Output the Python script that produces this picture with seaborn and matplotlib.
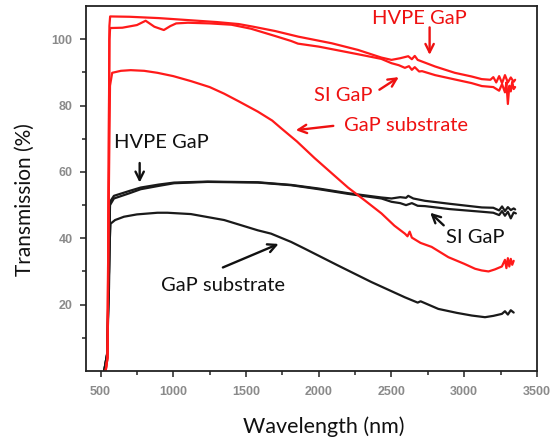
import numpy as np
import pandas as pd
import matplotlib
matplotlib.use("Agg")
import matplotlib.pyplot as plt
import seaborn as sns

# ---- data ----
red_hvpe_x = [535, 548, 556, 561, 566, 700, 900, 1100, 1300, 1450, 1550, 1700, 1860, 2090, 2270, 2430,
              2500, 2560, 2615, 2640, 2660, 2680, 2710, 2800, 2935, 3050, 3120, 3180, 3200, 3220, 3240,
              3260, 3280, 3300, 3320, 3340, 3350]
red_hvpe_y = [0, 4, 60, 104, 106.9, 106.8, 106.4, 105.8, 105.2, 104.6, 103.8, 102.5, 100.8, 98.8, 96.8, 94.5,
              93.8, 94.3, 94.9, 94.0, 95.0, 93.8, 93.3, 91.8, 89.9, 88.8, 88.0, 87.8, 88.6, 87.0, 88.9,
              86.8, 89.2, 87.0, 88.5, 87.2, 87.8]

red_si_x = [535, 548, 556, 561, 566, 650, 750, 810, 870, 935, 980, 1020, 1100, 1250, 1400, 1534, 1700,
            1810, 1857, 2000, 2270, 2430, 2500, 2550, 2592, 2620, 2640, 2660, 2690, 2710, 2800, 2935,
            3050, 3121, 3200, 3240, 3260, 3280, 3290, 3300, 3310, 3320, 3330, 3340, 3350]
red_si_y = [0, 4, 60, 100, 103.4, 103.5, 104.3, 105.6, 103.8, 102.8, 104.0, 104.8, 105.0, 104.8, 104.4,
            103.2, 101.0, 99.5, 98.7, 97.8, 95.5, 94.1, 92.8, 92.2, 91.4, 91.9, 90.8, 91.6, 90.3, 90.4,
            89.2, 87.9, 86.8, 85.9, 85.6, 84.5, 86.5, 84.0, 87.0, 80.5, 86.0, 84.3, 87.2, 85.0, 85.6]

red_sub_x = [535, 548, 556, 565, 580, 640, 707, 800, 891, 1000, 1121, 1250, 1350, 1450, 1581, 1680,
             1741, 1850, 1971, 2100, 2201, 2320, 2431, 2520, 2592, 2610, 2625, 2640, 2700, 2776, 2891,
             3000, 3075, 3120, 3167, 3210, 3259, 3280, 3290, 3300, 3310, 3320, 3330, 3340]
red_sub_y = [0, 4, 50, 86, 89.9, 90.5, 90.7, 90.5, 89.9, 88.9, 87.4, 85.6, 83.6, 81.3, 78.2, 75.5,
             73.2, 69.2, 64.2, 59.2, 55.3, 51.3, 47.5, 43.8, 41.4, 40.6, 42.0, 40.2, 38.6, 37.4, 34.3,
             32.3, 30.8, 30.3, 30.0, 30.6, 31.5, 33.5, 31.0, 34.0, 31.5, 33.8, 32.0, 33.2]

blk_sub_x = [525, 545, 558, 564, 569, 600, 661, 750, 891, 960, 1121, 1350, 1581, 1672, 1810, 1902, 2132,
             2362, 2592, 2680, 2700, 2822, 2950, 3052, 3143, 3200, 3259, 3280, 3300, 3320, 3340]
blk_sub_y = [0, 5, 25, 40, 44.4, 45.5, 46.5, 47.2, 47.7, 47.7, 47.3, 45.5, 42.4, 41.4, 38.9, 36.9, 31.8,
             26.8, 22.2, 20.6, 21.0, 18.7, 17.5, 16.7, 16.2, 16.6, 17.2, 18.0, 17.0, 18.3, 17.6]

blk_hvpe_x = [525, 545, 558, 565, 592, 700, 776, 900, 1006, 1236, 1581, 1810, 2000, 2201, 2431, 2500,
              2560, 2600, 2615, 2650, 2730, 2900, 3121, 3200, 3240, 3260, 3280, 3300, 3320, 3340, 3350]
blk_hvpe_y = [0, 5, 30, 51, 52.8, 54.3, 55.3, 56.2, 56.8, 57.1, 56.9, 56.1, 55.0, 53.6, 52.3, 52.0,
              52.4, 52.2, 52.8, 52.0, 51.3, 50.4, 49.3, 49.2, 48.4, 49.6, 48.2, 49.4, 48.5, 49.0, 48.7]

blk_si_x = [525, 545, 558, 565, 592, 700, 776, 900, 1006, 1236, 1581, 1810, 2000, 2201, 2431, 2500,
            2560, 2600, 2640, 2680, 2730, 2900, 3121, 3200, 3240, 3260, 3280, 3300, 3320, 3340, 3355]
blk_si_y = [0, 5, 30, 50, 52.0, 53.6, 54.8, 55.8, 56.6, 57.0, 56.8, 56.0, 54.8, 53.4, 52.0, 51.0,
            50.6, 50.0, 50.6, 49.8, 49.7, 48.8, 48.0, 47.7, 47.0, 48.2, 46.8, 48.0, 46.0, 47.8, 47.5]

x_ticks = [500, 1000, 1500, 2000, 2500, 3000, 3500]
y_ticks = [20, 40, 60, 80, 100]

# annotation labels: (text, text position, arrow tail, arrow head, colour key)
labels = [
    ("HVPE GaP", (2690, 106.4), (2762, 103.6), (2762, 95.3), "red"),
    ("SI GaP", (2166, 83.0), (2417, 84.8), (2550, 88.6), "red"),
    ("GaP substrate", (2600, 73.9), (2100, 73.9), (1842, 72.6), "red"),
    ("HVPE GaP", (921, 68.8), (769, 62.7), (769, 56.8), "black"),
    ("SI GaP", (3079, 40.3), (2859, 43.9), (2766, 47.7), "black"),
    ("GaP substrate", (1341, 25.8), (1341, 31.2), (1724, 38.3), "black"),
]

series = [
    ("red HVPE GaP", red_hvpe_x, red_hvpe_y, "#ff1a1a"),
    ("red SI GaP", red_si_x, red_si_y, "#ff1a1a"),
    ("red GaP substrate", red_sub_x, red_sub_y, "#ff1a1a"),
    ("black HVPE GaP", blk_hvpe_x, blk_hvpe_y, "#1a1a1a"),
    ("black SI GaP", blk_si_x, blk_si_y, "#1a1a1a"),
    ("black GaP substrate", blk_sub_x, blk_sub_y, "#1a1a1a"),
]

frames = []
for name, xs, ys, _ in series:
    frames.append(pd.DataFrame({"wl": xs, "T": ys, "series": name}))
df = pd.concat(frames, ignore_index=True)

sns.set_style("ticks")
plt.rcParams["font.family"] = ["Lato", "DejaVu Sans"]

fig = plt.figure(figsize=(5.53, 4.40), dpi=100)
ax = fig.add_axes([0.1555, 0.157, 0.8155, 0.829])

# draw black first, red on top
for name, xs, ys, c in series[3:] + series[:3]:
    sns.lineplot(data=df[df["series"] == name], x="wl", y="T", sort=False, estimator=None,
                 color=c, lw=1.6, ax=ax, legend=False)

ax.set_xlim(400, 3500)
ax.set_ylim(0, 110)
ax.set_xticks(x_ticks)
ax.set_yticks(y_ticks)
ax.set_xticks([750, 1250, 1750, 2250, 2750, 3250], minor=True)
ax.set_yticks([10, 30, 50, 70, 90], minor=True)
ax.tick_params(which="major", length=4.3, width=1.2, color="#333333", direction="out")
ax.tick_params(which="minor", length=2.8, width=1.2, color="#333333", direction="out")
ax.tick_params(axis="y", pad=5.5)
ax.tick_params(axis="x", pad=6.5)
for lab in ax.get_xticklabels() + ax.get_yticklabels():
    lab.set_fontfamily("Liberation Sans")
    lab.set_fontweight("bold")
    lab.set_color("#8a8a8a")
    lab.set_fontsize(9)
for s in ax.spines.values():
    s.set_visible(True)
    s.set_linewidth(1.3)
    s.set_color("#222222")

ax.set_xlabel("Wavelength (nm)", fontsize=15.5, color="#111111")
ax.set_ylabel("Transmission (%)", fontsize=15, color="#111111")
ax.xaxis.set_label_coords(0.527, -0.125)
ax.yaxis.set_label_coords(-0.113, 0.47)

cols = {"red": "#ee1111", "black": "#111111"}
for text, tpos, tail, head, ck in labels:
    c = cols[ck]
    ax.text(tpos[0], tpos[1], text, color=c, fontsize=14.5, ha="center", va="center")
    ax.annotate("", xy=head, xytext=tail,
                arrowprops=dict(arrowstyle="->", lw=1.7, mutation_scale=15, color=c,
                                shrinkA=0, shrinkB=0))

fig.savefig("out.png", dpi=100)
